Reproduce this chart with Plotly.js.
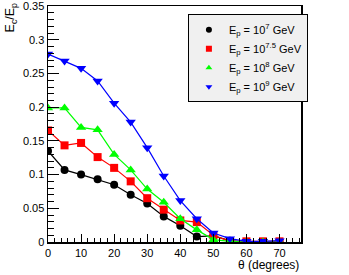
<!DOCTYPE html>
<html><head><meta charset="utf-8">
<script src="https://cdn.plot.ly/plotly-3.0.1.min.js"></script>
<style>body{margin:0;padding:0;background:#fff}#chart{width:349px;height:275px}</style>
</head><body><div id="chart"></div>
<script>
const theta = [0,5,10,15,20,25,30,35,40,45,50,55,60,65,70];
const e7   = [0.135,0.107,0.100,0.093,0.085,0.070,0.057,0.038,0.024,0.008,0.009,0.002,0.000,0.000,0.000];
const e75  = [0.1655,0.1434,0.147,0.126,0.110,0.090,0.065,0.048,0.032,0.0295,0.010,0.001,0.001,0.001,0.001];
const e8   = [0.199,0.199,0.170,0.1665,0.130,0.107,0.0786,0.059,0.0345,0.018,0.0035,0.001,0.000,0.000,0.000];
const e9   = [0.279,0.2686,0.2577,0.239,0.206,0.178,0.140,0.098,0.0614,0.0345,0.0133,0.005,0.001,0.001,0.002];
const names = ["E<sub>p</sub> = 10<sup>7</sup> GeV","E<sub>p</sub> = 10<sup>7.5</sup> GeV","E<sub>p</sub> = 10<sup>8</sup> GeV","E<sub>p</sub> = 10<sup>9</sup> GeV"];
const series = [e7, e75, e8, e9];
const colors = ["#000000","#ff0000","#00ff00","#0000ff"];
const symbols = ["circle","square","triangle-up","triangle-down"];
const sizes = [8,8,9,9];
const font = "Liberation Sans, Arial, sans-serif";
const traces = [];
series.forEach((s,i)=>{
  traces.push({x:theta,y:s,mode:"lines+markers",showlegend:false,
    line:{color:colors[i],width:1.2},marker:{color:colors[i],symbol:symbols[i],size:sizes[i]}});
});
series.forEach((s,i)=>{
  traces.push({x:[null],y:[null],mode:"markers",name:names[i],
    marker:{color:colors[i],symbol:symbols[i],size:6}});
});
const layout = {
  width:349,height:275,
  margin:{l:48,r:48,t:6,b:33},
  paper_bgcolor:"#fff",plot_bgcolor:"#fff",
  font:{family:font,size:11,color:"#000"},
  showlegend:true,
  legend:{x:0.553,y:0.965,xanchor:"left",yanchor:"top",bgcolor:"#f0f0f0",bordercolor:"#000",borderwidth:1,
    font:{family:font,size:11,color:"#000"},tracegroupgap:0,itemwidth:30},
  xaxis:{range:[0,76.5],dtick:10,tick0:0,ticks:"inside",ticklen:8,tickwidth:1,tickcolor:"#000",
    showline:true,linecolor:"#000",linewidth:1.5,mirror:true,showgrid:false,zeroline:false,
    minor:{dtick:2,ticks:"inside",ticklen:4,tickcolor:"#000",showgrid:false},
    tickfont:{size:11},ticklabeloverflow:"allow"},
  yaxis:{range:[0,0.3502],dtick:0.05,tick0:0,ticks:"inside",ticklen:11,tickwidth:1,tickcolor:"#000",
    showline:true,linecolor:"#000",linewidth:1.5,mirror:true,showgrid:false,zeroline:false,
    minor:{dtick:0.01,ticks:"inside",ticklen:6,tickcolor:"#000",showgrid:false},
    tickfont:{size:11},ticklabeloverflow:"allow"},
  annotations:[
    {text:"θ (degrees)",xref:"paper",yref:"paper",x:1,y:-0.06,xanchor:"right",yanchor:"top",showarrow:false,font:{size:12}},
    {text:"E<sub>c</sub>/E<sub>p</sub>",xref:"paper",yref:"paper",x:-0.145,y:1.025,xanchor:"center",yanchor:"top",textangle:-90,showarrow:false,font:{size:12.5}}
  ]
};
Plotly.newPlot("chart",traces,layout,{displayModeBar:false,staticPlot:true});
</script></body></html>
